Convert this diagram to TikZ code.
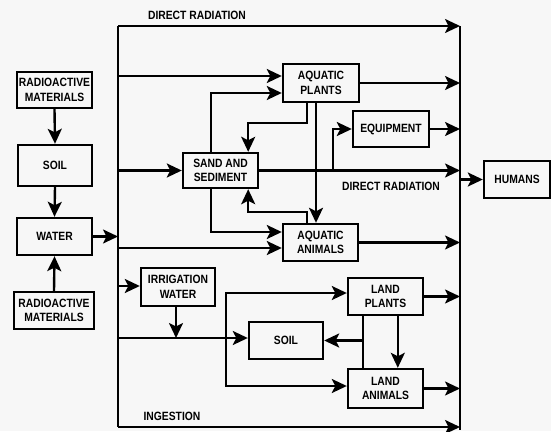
\documentclass[tikz,border=0pt]{standalone}
\usepackage{fontspec}
\setmainfont{Liberation Sans}[FakeStretch=0.86]
\usetikzlibrary{arrows.meta,calc}
\definecolor{bgc}{HTML}{F7F7F7}
\begin{document}
\begin{tikzpicture}[x=1pt,y=-1pt,
  ln/.style={line width=2.4pt},
  arr/.style={ln,-{Stealth[length=15pt,width=14pt,inset=3.5pt]}},
  box/.style={draw,line width=2.4pt,align=center,inner sep=1pt,
    font=\bfseries\fontsize{12}{14.5}\selectfont},
  lbl/.style={font=\bfseries\fontsize{12}{13}\selectfont,inner sep=0pt}]
\fill[bgc] (0,0) rectangle (551,431);
\useasboundingbox (0,0) rectangle (551,431);
% left column
\node[box,minimum width=75pt,minimum height=36pt] (rm1) at (54.5,90) {RADIOACTIVE\\MATERIALS};
\node[box,minimum width=74pt,minimum height=41pt] (soil1) at (55,165.5) {SOIL};
\node[box,minimum width=75pt,minimum height=37pt] (water) at (54.5,236.5) {WATER};
\node[box,minimum width=80pt,minimum height=37pt] (rm2) at (54,310.5) {RADIOACTIVE\\MATERIALS};
% middle / right
\node[box,minimum width=76pt,minimum height=38pt] (ap) at (321,83) {AQUATIC\\PLANTS};
\node[box,minimum width=75pt,minimum height=35pt] (ss) at (220.5,170.5) {SAND AND\\SEDIMENT};
\node[box,minimum width=76pt,minimum height=36pt] (eq) at (391,129) {EQUIPMENT};
\node[box,minimum width=75pt,minimum height=37pt] (aa) at (320.5,242.5) {AQUATIC\\ANIMALS};
\node[box,minimum width=66pt,minimum height=37pt] (hum) at (517,179.5) {HUMANS};
\node[box,minimum width=74pt,minimum height=38pt] (iw) at (178,287) {IRRIGATION\\WATER};
\node[box,minimum width=74pt,minimum height=37pt] (soil2) at (286,340.5) {SOIL};
\node[box,minimum width=75pt,minimum height=37pt] (lp) at (385.5,296.5) {LAND\\PLANTS};
\node[box,minimum width=75pt,minimum height=39pt] (la) at (385.5,388.5) {LAND\\ANIMALS};
% labels
\node[lbl] (lbtop) at (197,15) {DIRECT RADIATION};
\node[lbl] (lbmid) at (391,186) {DIRECT RADIATION};
\node[lbl] (lbing) at (172,416) {INGESTION};
% buses
\coordinate (bTL) at (118,26);
\coordinate (bBL) at (118,427);
\coordinate (bTR) at (460,26);
\coordinate (bBR) at (460,430);
\draw[ln] (bTL) -- (bBL);
\draw[ln] (bTR) -- (bBR);
\draw[arr] (bTL) -- (bTR);
\draw[arr] (bBL) -- (bBL -| bTR);
% left column arrows
\draw[arr] (rm1.south) -- (soil1.north);
\draw[arr] (soil1.south) -- (water.north);
\draw[arr] (rm2.north) -- (water.south);
\draw[arr] (water.east) -- (water.east -| bTL);
% aquatic part
\coordinate (apin1) at ($(ap.west)+(0,-7)$);
\coordinate (apin2) at ($(ap.west)+(0,10)$);
\coordinate (ssup) at ($(ss.north west)+(29,0)$);
\coordinate (ssdn) at ($(ss.south west)+(29,0)$);
\coordinate (ssin1) at ($(ss.north east)+(-11,0)$);
\coordinate (ssin2) at ($(ss.south east)+(-11,0)$);
\coordinate (apo1) at ($(ap.south)+(-14,0)$);
\coordinate (apo2) at ($(ap.south)+(-5,0)$);
\coordinate (aao1) at ($(aa.north)+(-13.5,0)$);
\coordinate (aain1) at ($(aa.west)+(0,-10.5)$);
\coordinate (aain2) at ($(aa.west)+(0,5.5)$);
\draw[arr] (apin1 -| bTL) -- (apin1);
\draw[arr] (ssup) |- (apin2);
\draw[arr] (apo1) -- ++(0,20) -| (ssin1);
\draw[arr] (aao1) -- ++(0,-11) -| (ssin2);
\draw[arr] (apo2) -- (apo2 |- aa.north);
\draw[arr] (ss.west -| bTL) -- (ss.west);
\draw[arr] (ss.east) -- (ss.east -| bTR);
\coordinate (eqj) at ($(ss.east)+(74,0)$);
\draw[arr] (eqj) |- (eq.west);
\draw[arr] (eq.east) -- (eq.east -| bTR);
\draw[arr] (ap.east) -- (ap.east -| bTR);
\draw[arr] (ssdn) |- (aain1);
\draw[arr] (aain2 -| bTL) -- (aain2);
\draw[arr] (aa.east) -- (aa.east -| bTR);
\draw[arr] (hum.west -| bTR) -- (hum.west);
% land part
\coordinate (iwin) at ($(iw.west)+(0,-1)$);
\draw[arr] (iwin -| bTL) -- (iwin);
\coordinate (sj) at ($(soil2.west)+(0,-2.5)$);
\coordinate (iwo) at ($(iw.south)+(-2,0)$);
\draw[arr] (iwo) -- (iwo |- sj);
\draw[arr] (sj -| bTL) -- (sj);
\coordinate (lj) at ($(sj)+(-22,0)$);
\coordinate (lpin) at ($(lp.west)+(0,-3.5)$);
\coordinate (lain) at ($(la.west)+(0,-2.5)$);
\draw[arr] (lj) |- (lpin);
\draw[arr] (lj) |- (lain);
\coordinate (lpo1) at ($(lp.south west)+(16,0)$);
\coordinate (lpo2) at ($(lp.south west)+(51,0)$);
\draw[ln] (lpo1) -- (lpo1 |- la.north);
\draw[arr] (lpo1 |- soil2.east) -- (soil2.east);
\draw[arr] (lpo2) -- (lpo2 |- la.north);
\draw[arr] (lp.east) -- (lp.east -| bTR);
\draw[arr] (la.east) -- (la.east -| bTR);
\end{tikzpicture}
\end{document}
